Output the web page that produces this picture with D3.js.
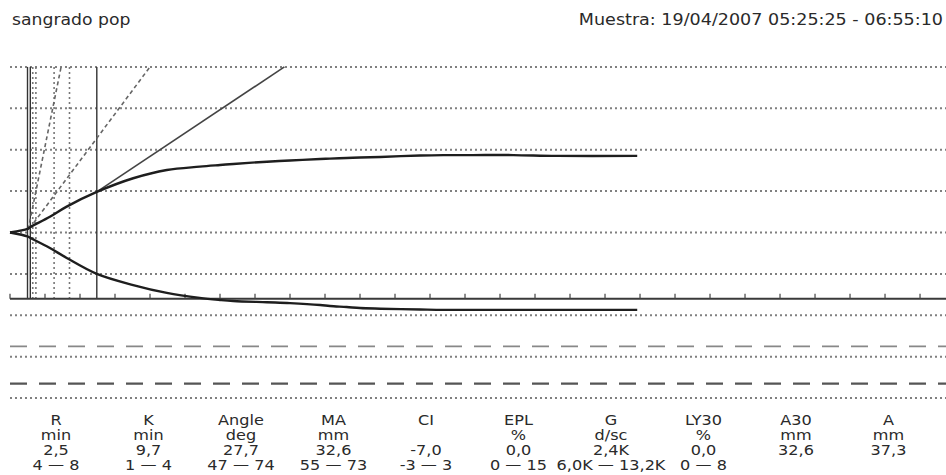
<!DOCTYPE html>
<html><head><meta charset="utf-8">
<script src="https://cdn.jsdelivr.net/npm/d3@7"></script>
<style>body{margin:0;background:#fff} svg{display:block}</style>
</head><body><svg id="c" width="946" height="475"></svg>
<script>
// ---- data ----
const titleText = "sangrado pop";
const sampleText = "Muestra: 19/04/2007 05:25:25 - 06:55:10";
// time (min) and amplitude (mm) of the trace
const times    = [0, 2.5, 2.9, 5.7, 8.1, 12.4, 17.6, 22.4, 27.1, 30.0, 31.9, 36.7, 40.0, 44.3, 45.7, 48.1, 50.0, 52.9, 58.6, 61.9, 66.1, 71.9, 78.1, 89.6];
const upperAmp = [0, 1.7, 2.6, 7.6, 12.5, 19.6, 26.2, 30.2, 31.8, 32.6, 33.1, 34.2, 34.8, 35.5, 35.7, 36.0, 36.2, 36.5, 37.2, 37.4, 37.4, 37.4, 37.0, 37.0];
const lowerAmp = [0, 1.9, 2.6, 7.5, 12.3, 20.0, 25.4, 29.2, 31.6, 32.6, 33.1, 33.7, 34.1, 35.0, 35.5, 36.0, 36.5, 36.8, 37.2, 37.4, 37.4, 37.4, 37.4, 37.4];
const gridAmps = [80, 60, 40, 20, 0, -20, -40, -60, -80];
const maRangeAmps = [-55, -73];
const axisAmp = -32;
const tickTimes = [0,5,10,15,20,25,30,35,40,45,50,55,60,65,70,75,80,85,90,95,100,105,110,115,120,125,130];
const solidMarkers = [2.5, 2.9, 12.4];
const dottedMarkers = [3.25, 3.7, 6.3, 8.5];
const tangentDashed = [[[2.6, 1.5], [7.3, 80]], [[2.8, 2.0], [20.0, 80]]];
const tangentSolid = [[[12.4, 19.6], [39.2, 80]]];
const paramNames  = ["R", "K", "Angle", "MA", "CI", "EPL", "G", "LY30", "A30", "A"];
const paramUnits  = ["min", "min", "deg", "mm", "", "%", "d/sc", "%", "mm", "mm"];
const paramValues = ["2,5", "9,7", "27,7", "32,6", "-7,0", "0,0", "2,4K", "0,0", "32,6", "37,3"];
const paramRanges = ["4 — 8", "1 — 4", "47 — 74", "55 — 73", "-3 — 3", "0 — 15", "6,0K — 13,2K", "0 — 8", "", ""];

// ---- drawing ----
const svg = d3.select("#c");
const W = 946;
const x = d3.scaleLinear().domain([0, 133.71]).range([10, W]);
const y = d3.scaleLinear().domain([0, 80]).range([232.5, 66.9]);
const font = "'DejaVu Sans', Verdana, sans-serif";
const sx = 1.15;

// titles
svg.append("text").attr("transform", "translate(12,25) scale(" + sx + ",1)")
  .attr("font-family", font).attr("font-size", 15).attr("fill", "#2a2a2a").text(titleText);
svg.append("text").attr("transform", "translate(943,25) scale(1.17,1)")
  .attr("text-anchor", "end")
  .attr("font-family", font).attr("font-size", 15).attr("fill", "#2a2a2a").text(sampleText);

// grid lines
svg.append("g").selectAll("line").data(gridAmps).join("line")
  .attr("x1", x(0)).attr("x2", W)
  .attr("y1", d => y(d)).attr("y2", d => y(d))
  .attr("stroke", "#808080").attr("stroke-width", 2).attr("stroke-dasharray", "2,3");

// MA normal range dashed
svg.append("g").selectAll("line").data(maRangeAmps).join("line")
  .attr("x1", x(0)).attr("x2", W)
  .attr("y1", d => y(d)).attr("y2", d => y(d))
  .attr("stroke", (d, i) => i ? "#555" : "#888")
  .attr("stroke-width", (d, i) => i ? 2.2 : 1.6)
  .attr("stroke-dasharray", "17,12");

// vertical markers
svg.append("g").selectAll("line").data(dottedMarkers).join("line")
  .attr("x1", d => x(d)).attr("x2", d => x(d))
  .attr("y1", y(80)).attr("y2", y(axisAmp))
  .attr("stroke", "#777").attr("stroke-width", 1.6).attr("stroke-dasharray", "2,3");
svg.append("g").selectAll("line").data(solidMarkers).join("line")
  .attr("x1", d => x(d)).attr("x2", d => x(d))
  .attr("y1", y(80)).attr("y2", y(axisAmp))
  .attr("stroke", "#333").attr("stroke-width", 1.4);

// tangent lines
const seg = d3.line().x(d => x(d[0])).y(d => y(d[1]));
svg.append("g").selectAll("path").data(tangentDashed).join("path")
  .attr("d", seg).attr("fill", "none")
  .attr("stroke", "#666").attr("stroke-width", 1.6).attr("stroke-dasharray", "4,3");
svg.append("g").selectAll("path").data(tangentSolid).join("path")
  .attr("d", seg).attr("fill", "none")
  .attr("stroke", "#444").attr("stroke-width", 1.6);

// time axis
const axisY = y(axisAmp);
svg.append("line").attr("x1", x(0)).attr("x2", W).attr("y1", axisY).attr("y2", axisY)
  .attr("stroke", "#3a3a3a").attr("stroke-width", 2);
svg.append("g").selectAll("line").data(tickTimes).join("line")
  .attr("x1", d => x(d)).attr("x2", d => x(d))
  .attr("y1", axisY).attr("y2", axisY - 5)
  .attr("stroke", "#444").attr("stroke-width", 1.2);

// trace
const upper = times.map((t, i) => [t, upperAmp[i]]);
const lower = times.map((t, i) => [t, -lowerAmp[i]]);
const trace = d3.line().x(d => x(d[0])).y(d => y(d[1])).curve(d3.curveCatmullRom.alpha(0.5));
svg.append("g").selectAll("path").data([upper, lower]).join("path")
  .attr("d", trace).attr("fill", "none")
  .attr("stroke", "#1e1e1e").attr("stroke-width", 2.4);

// parameter table
const col = d3.scaleBand().domain(paramNames).range([9.75, 934.75]);
const rows = [paramNames, paramUnits, paramValues, paramRanges];
const rowY = [425, 440, 455, 470];
const tg = svg.append("g").attr("font-family", font).attr("font-size", 14).attr("fill", "#2a2a2a");
rows.forEach((r, ri) => {
  tg.selectAll(null).data(paramNames).join("text")
    .attr("transform", d => "translate(" + (col(d) + col.bandwidth() / 2) + "," + rowY[ri] + ") scale(" + sx + ",1)")
    .attr("text-anchor", "middle")
    .text((d, i) => r[i]);
});
</script>
</body></html>
